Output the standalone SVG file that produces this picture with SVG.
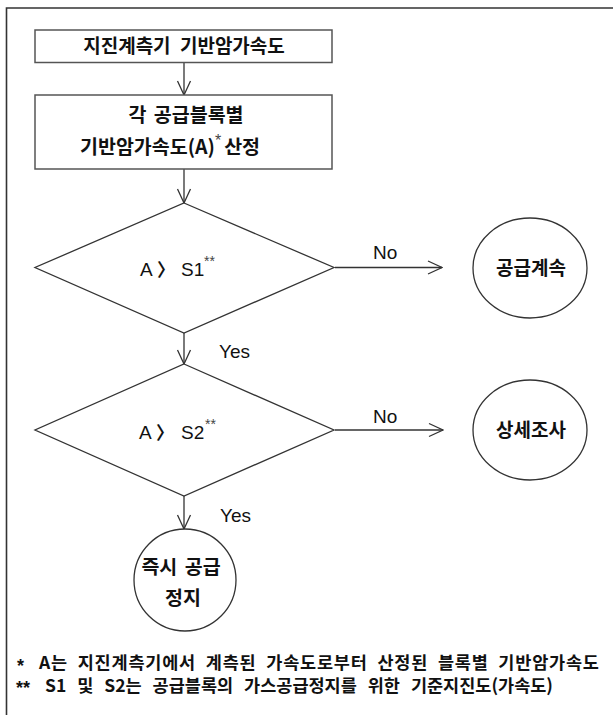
<svg xmlns="http://www.w3.org/2000/svg" width="613" height="715" viewBox="0 0 613 715">
<defs>
<style>
.frame{fill:none;stroke:#333;stroke-width:1.6}
.box{fill:#fff;stroke:#555;stroke-width:1.5}
.shape{fill:#fff;stroke:#333;stroke-width:1.3}
.conn{fill:none;stroke:#333;stroke-width:1.3}
.ko{font-family:"Noto Sans CJK KR","Noto Sans",sans-serif;fill:#111;font-weight:700}
.la{font-family:"Liberation Sans",Arial,sans-serif;fill:#111}
.sup{font-family:"Liberation Sans",Arial,sans-serif;fill:#444}
</style>
<marker id="arr" markerWidth="16" markerHeight="16" refX="15" refY="8" orient="auto" markerUnits="userSpaceOnUse">
<path d="M1,1.5 L15,8 L1,14.5" fill="none" stroke="#333" stroke-width="1.3"/>
</marker>
</defs>
<rect width="613" height="715" fill="#fff"/>
<path class="frame" d="M6.5,715 V8 H613"/>

<g id="connectors">
<line class="conn" x1="184" y1="62.5" x2="184" y2="95" marker-end="url(#arr)"/>
<line class="conn" x1="184" y1="169" x2="184" y2="203" marker-end="url(#arr)"/>
<line class="conn" x1="335" y1="267.5" x2="442" y2="267.5" marker-end="url(#arr)"/>
<line class="conn" x1="184" y1="333" x2="184" y2="364" marker-end="url(#arr)"/>
<line class="conn" x1="335" y1="430" x2="443" y2="430" marker-end="url(#arr)"/>
<line class="conn" x1="184" y1="496" x2="184" y2="529" marker-end="url(#arr)"/>
<text class="la" x="373" y="259" font-size="19">No</text>
<text class="la" x="219" y="358" font-size="19">Yes</text>
<text class="la" x="373" y="423" font-size="19">No</text>
<text class="la" x="220" y="522" font-size="19">Yes</text>
</g>

<g id="n1">
<rect class="box" x="35" y="30" width="297" height="32.5"/>
<text class="ko" x="184" y="53" font-size="19" text-anchor="middle" word-spacing="5">지진계측기 기반암가속도</text>
</g>

<g id="n2">
<rect class="box" x="35" y="95" width="297" height="74"/>
<text class="ko" x="186" y="122" font-size="19.5" text-anchor="middle" word-spacing="3">각 공급블록별</text>
<text class="ko" x="80" y="154" font-size="19.5">기반암가속도(A)<tspan class="sup" dy="-8" font-size="16" font-weight="400">*</tspan><tspan dy="8" dx="3">산정</tspan></text>
</g>

<g id="d1">
<polygon class="shape" points="184,203 334,267.5 184,333 35,267.5"/>
<text class="la" x="140" y="276" font-size="19">A</text>
<text class="ko" x="157" y="276" font-size="18" font-weight="400">〉</text>
<text class="la" x="181" y="276" font-size="19">S1</text>
<text class="sup" x="204" y="266" font-size="14">**</text>
</g>

<g id="c1">
<ellipse class="shape" cx="530" cy="268" rx="57" ry="50"/>
<text class="ko" x="531" y="275" font-size="19" text-anchor="middle">공급계속</text>
</g>

<g id="d2">
<polygon class="shape" points="184,364 334,430 184,496 35,430"/>
<text class="la" x="139" y="439" font-size="19">A</text>
<text class="ko" x="156" y="439" font-size="18" font-weight="400">〉</text>
<text class="la" x="181" y="439" font-size="19">S2</text>
<text class="sup" x="205" y="429" font-size="14">**</text>
</g>

<g id="c2">
<ellipse class="shape" cx="530" cy="430" rx="57" ry="50"/>
<text class="ko" x="531" y="437" font-size="19" text-anchor="middle">상세조사</text>
</g>

<g id="c3">
<ellipse class="shape" cx="185" cy="580" rx="51" ry="51"/>
<text class="ko" x="181" y="574" font-size="19.5" text-anchor="middle" word-spacing="3">즉시 공급</text>
<text class="ko" x="183" y="605" font-size="19.5" text-anchor="middle">정지</text>
</g>

<g id="notes">
<text class="la" x="17" y="672" font-size="18" font-weight="700">*</text>
<text class="ko" x="39" y="669" font-size="17.5" letter-spacing="0.8" word-spacing="5">A는 지진계측기에서 계측된 가속도로부터 산정된 블록별 기반암가속도</text>
<text class="la" x="16" y="694" font-size="18" font-weight="700">**</text>
<text class="ko" x="45" y="692" font-size="17.5" word-spacing="7">S1 및 S2는 공급블록의 가스공급정지를 위한 기준지진도(가속도)</text>
</g>
</svg>
